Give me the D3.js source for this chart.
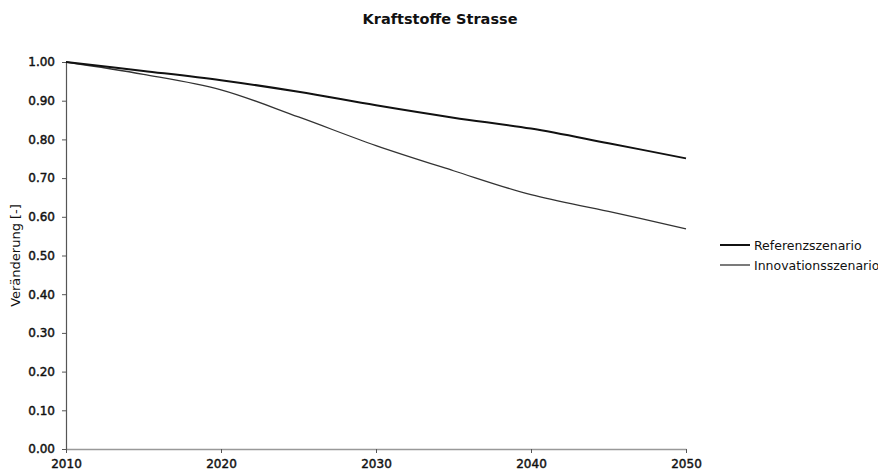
<!DOCTYPE html>
<html>
<head>
<meta charset="utf-8">
<script src="https://cdn.jsdelivr.net/npm/d3@7"></script>
<style>
  body { margin: 0; background: #fff; }
  svg text { font-family: "DejaVu Sans", Verdana, sans-serif; fill: #111; }
</style>
</head>
<body>
<div id="chart"></div>
<script>
const width = 878;
const height = 472;
const margin = {top: 62, right: 192, bottom: 23, left: 66};
const graphWidth = width - margin.left - margin.right;
const graphHeight = height - margin.top - margin.bottom;

// values, every 5 years
const years = [2010, 2015, 2020, 2025, 2030, 2035, 2040, 2045, 2050];
const referenz = [1.00, 0.977, 0.953, 0.923, 0.888, 0.856, 0.828, 0.790, 0.751];
const innovation = [1.00, 0.968, 0.928, 0.858, 0.784, 0.719, 0.657, 0.614, 0.569];
const xTicks = [2010, 2020, 2030, 2040, 2050];
const yTicks = [0, 0.1, 0.2, 0.3, 0.4, 0.5, 0.6, 0.7, 0.8, 0.9, 1.0];
const seriesNames = ["Referenzszenario", "Innovationsszenario"];

const svg = d3.select('#chart')
  .append('svg')
  .attr('width', width)
  .attr('height', height);

const graph = svg.append('g')
  .attr('transform', 'translate(' + margin.left + ',' + margin.top + ')');

const x = d3.scaleLinear().domain([2010, 2050]).range([0, graphWidth]);
const y = d3.scaleLinear().domain([0, 1]).range([graphHeight, 0]);

// axes
const xAxis = graph.append('g')
  .attr('transform', 'translate(0,' + graphHeight + ')')
  .call(d3.axisBottom(x).tickValues(xTicks).tickFormat(d3.format('d')).tickSizeInner(4).tickSizeOuter(0).tickPadding(6));

const yAxis = graph.append('g')
  .call(d3.axisLeft(y).tickValues(yTicks).tickFormat(d3.format('.2f')).tickSizeInner(4).tickSizeOuter(0).tickPadding(7));

xAxis.select('.domain').attr('stroke', '#999').attr('stroke-width', 1.5);
yAxis.select('.domain').attr('stroke', '#555').attr('stroke-width', 1.2);
[xAxis, yAxis].forEach(a => {
  a.selectAll('.tick line').attr('stroke', '#555');
  a.selectAll('.tick text')
    .style('font-size', '12px')
    .attr('fill', '#111')
    .attr('stroke', '#111')
    .attr('stroke-width', 0.45);
});

// lines
const line = d3.line()
  .x((d, i) => x(years[i]))
  .y(d => y(d))
  .curve(d3.curveCatmullRom.alpha(0.5));

graph.append('path')
  .datum(innovation)
  .attr('fill', 'none')
  .attr('stroke', '#333')
  .attr('stroke-width', 1.3)
  .attr('d', line);

graph.append('path')
  .datum(referenz)
  .attr('fill', 'none')
  .attr('stroke', '#111')
  .attr('stroke-width', 2)
  .attr('d', line);

// title
svg.append('text')
  .attr('x', 440)
  .attr('y', 24)
  .attr('text-anchor', 'middle')
  .style('font-size', '14.5px')
  .style('font-weight', 'bold')
  .text('Kraftstoffe Strasse');

// y axis title
svg.append('text')
  .attr('transform', 'translate(20,' + (margin.top + graphHeight / 2) + ') rotate(-90)')
  .attr('text-anchor', 'middle')
  .style('font-size', '13px')
  .text('Veränderung [-]');

// legend
const legend = svg.append('g').attr('transform', 'translate(720,245)');
seriesNames.forEach((name, i) => {
  const row = legend.append('g').attr('transform', 'translate(0,' + (i * 20) + ')');
  row.append('line')
    .attr('x1', 0).attr('x2', 30)
    .attr('stroke', i === 0 ? '#111' : '#333')
    .attr('stroke-width', i === 0 ? 2 : 1.3);
  row.append('text')
    .attr('x', 34)
    .attr('y', 4.5)
    .style('font-size', '12.5px')
    .text(name);
});
</script>
</body>
</html>
